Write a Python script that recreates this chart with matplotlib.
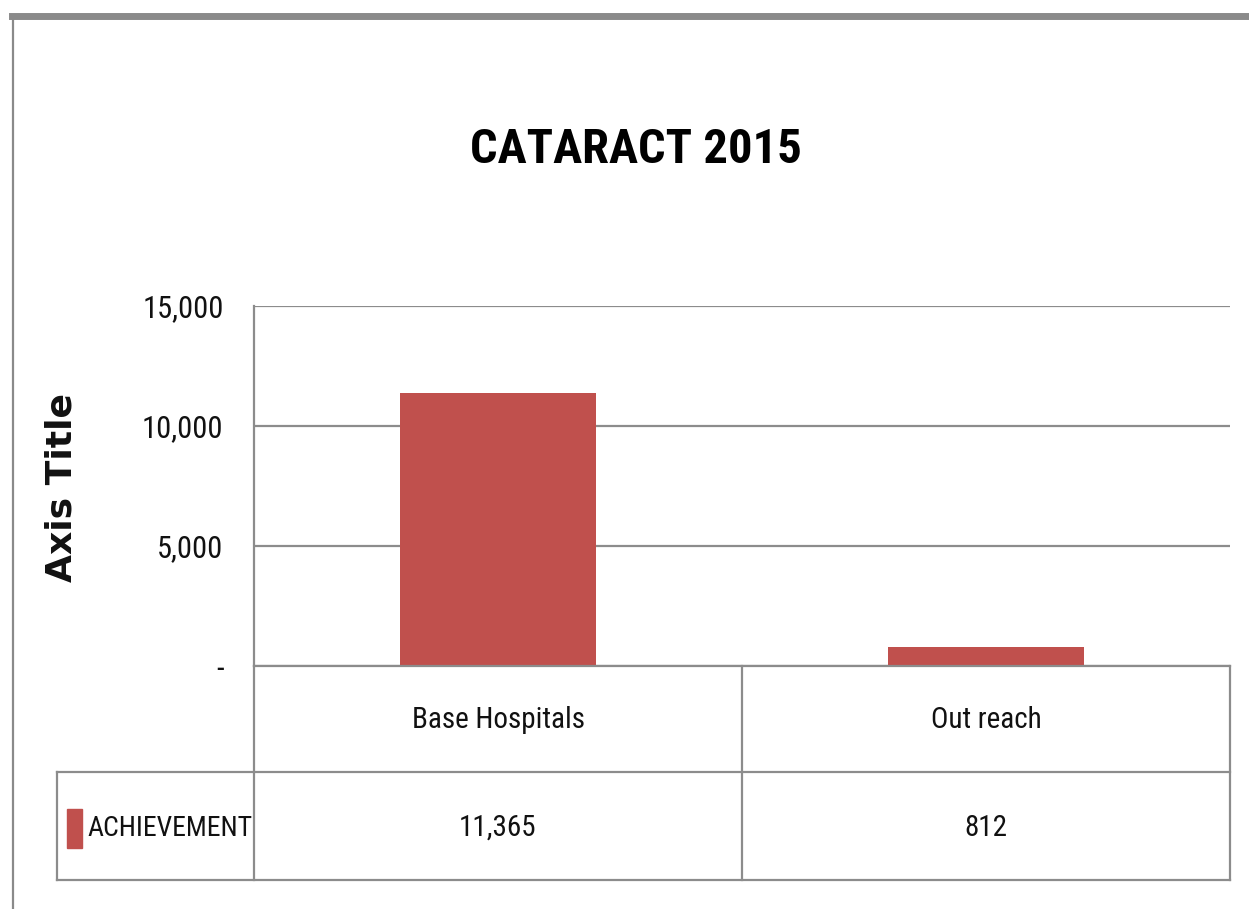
import matplotlib
matplotlib.use("Agg")
import matplotlib.pyplot as plt
import matplotlib.font_manager as fm
from matplotlib.lines import Line2D
from matplotlib.patches import Rectangle
import matplotlib.transforms as mtransforms

# ---- data ----
title = "CATARACT 2015"
categories = ["Base Hospitals", "Out reach"]
series_name = "ACHIEVEMENT"
values = [11365, 812]
yticks = [0, 5000, 10000, 15000]
y_axis_title = "Axis Title"

# ---- fonts ----
names = {f.name for f in fm.fontManager.ttflist}
narrow = next((n for n in ["Liberation Sans Narrow", "Roboto Condensed", "Open Sans Condensed",
                           "Noto Sans Condensed", "Arial Narrow"] if n in names), None)
if narrow:
    FAM = [narrow, "DejaVu Sans"]
    s_tick, s_cat, s_leg, s_title = 22, 21, 20, 35
else:
    FAM = ["Lato", "DejaVu Sans"]
    s_tick, s_cat, s_leg, s_title = 18, 17, 16, 28

W, H = 1249, 909
fig = plt.figure(figsize=(W / 100, H / 100), dpi=100)
fig.patch.set_facecolor("white")

def fx(px):
    return px / W

def fy(py):
    return 1 - py / H

L, R, T, B = 254, 1230, 306, 666
ax = fig.add_axes([fx(L), fy(B), fx(R) - fx(L), fy(T) - fy(B)])

bar_color = "#C0504D"
grid_color = "#8C8C8C"

x = list(range(len(categories)))
ax.bar(x, values, width=0.40, color=bar_color, zorder=3)
ax.set_xlim(-0.5, len(categories) - 0.5)
ax.set_ylim(0, 15000)
ax.set_yticks(yticks)
ax.set_yticklabels([f"{v:,.0f}" if v else "-" for v in yticks],
                   fontsize=s_tick, family=FAM, color="#111111")
ax.set_xticks([])
ax.tick_params(axis="y", length=0, pad=22)
ax.yaxis.grid(True, color=grid_color, linewidth=1.6, zorder=0)
for sp in ["top", "right", "bottom"]:
    ax.spines[sp].set_visible(False)
ax.spines["left"].set_color(grid_color)
ax.spines["left"].set_linewidth(1.6)

# axis title
fig.text(fx(62), fy(487), y_axis_title, rotation=90, ha="center", va="center",
         fontsize=26, fontweight="bold", family=["DejaVu Sans"], color="#111111")

# chart title
fig.text(fx(636), fy(150), title, ha="center", va="center",
         fontsize=s_title, fontweight="bold", family=FAM, color="#000000")

# ---- data table ----
def fline(x0, y0, x1, y1, lw=1.6, color=grid_color):
    fig.add_artist(Line2D([fx(x0), fx(x1)], [fy(y0), fy(y1)], color=color, linewidth=lw))

fline(L, B, R, B)          # axis line / header top
fline(57, 772, R, 772)     # middle line
fline(57, 880, R, 880)     # bottom line
fline(57, 772, 57, 880)
fline(L, B, L, 880)
fline(742, B, 742, 880)
fline(R, B, R, 880)

blend = mtransforms.blended_transform_factory(ax.transData, fig.transFigure)
for xi, cat, v in zip(x, categories, values):
    fig.text(xi, fy(720), cat, transform=blend, ha="center", va="center",
             fontsize=s_cat, family=FAM, color="#111111")
    fig.text(xi, fy(828), f"{v:,}", transform=blend, ha="center", va="center",
             fontsize=s_cat, family=FAM, color="#111111")

fig.add_artist(Rectangle((fx(67), fy(848)), fx(15), 39 / H, color=bar_color,
                         transform=fig.transFigure))
fig.text(fx(87), fy(828), series_name, ha="left", va="center",
         fontsize=s_leg, family=FAM, color="#111111")

# ---- outer frame ----
fline(12, 16, W, 16, lw=5, color="#8A8A8A")
fline(13, 18, 13, H, lw=1.6, color="#8A8A8A")

fig.savefig("out.png", dpi=100, facecolor="white")
